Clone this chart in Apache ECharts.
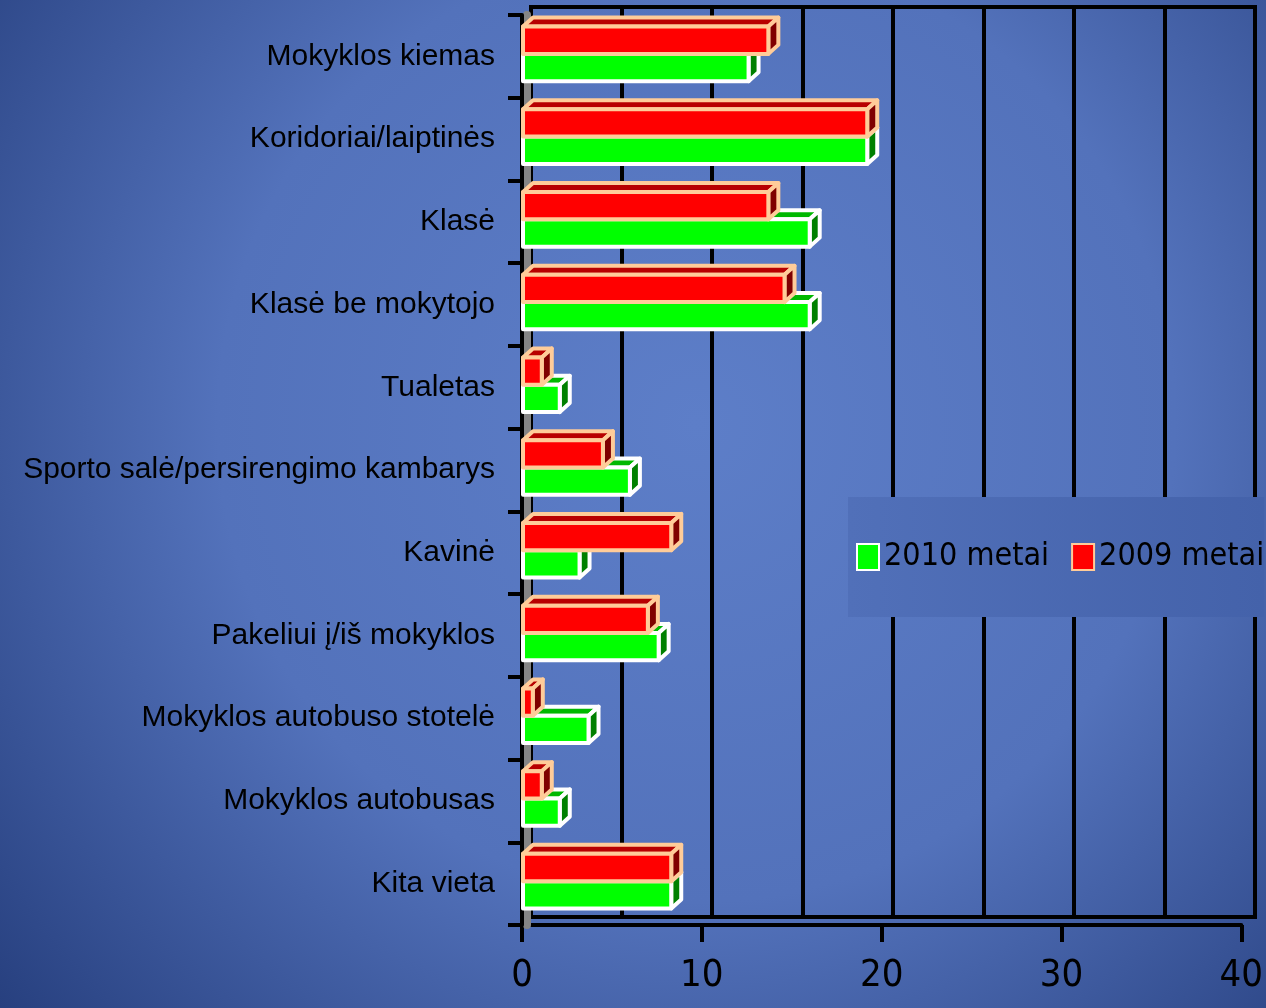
<!DOCTYPE html>
<html>
<head>
<meta charset="utf-8">
<script src="https://cdn.jsdelivr.net/npm/echarts@6/dist/echarts.min.js"></script>
<style>
  html, body { margin: 0; padding: 0; }
  #chart { width: 1266px; height: 1008px; }
</style>
</head>
<body>
<div id="chart"></div>
<script>
// kategorijos (iš viršaus į apačią)
const categories = [
  'Mokyklos kiemas',
  'Koridoriai/laiptinės',
  'Klasė',
  'Klasė be mokytojo',
  'Tualetas',
  'Sporto salė/persirengimo kambarys',
  'Kavinė',
  'Pakeliui į/iš mokyklos',
  'Mokyklos autobuso stotelė',
  'Mokyklos autobusas',
  'Kita vieta'
]
const values2009 = [13.7, 19.2, 13.7, 14.6, 1.1, 4.5, 8.3, 7.0, 0.6, 1.1, 8.3]
const values2010 = [12.6, 19.2, 16.0, 16.0, 2.1, 6.0, 3.2, 7.6, 3.7, 2.1, 8.3]
const xTicks = [0, 10, 20, 30, 40]

const narrowFont = '"Liberation Sans Narrow", "DejaVu Sans Condensed", "Liberation Sans", sans-serif'

const chart = echarts.init(document.getElementById('chart'))

// 3D stačiakampis: priekis + viršus + šonas
function box3d(slot, c) {
  return function(params, api) {
    const v = api.value(0)
    const i = api.value(1)
    const p0 = api.coord([0, i])
    const p1 = api.coord([v, i])
    const band = api.size([0, 1])[1]
    const h = band * 0.33
    const y = p0[1] - band * 0.36 + slot * h
    const x0 = p0[0] + 1
    const x1 = p1[0]
    const dx = 10
    const dy = -9
    const st = { stroke: c.border, lineWidth: 4, lineJoin: 'round' }
    return {
      type: 'group',
      children: [
        {
          type: 'polygon',
          shape: { points: [[x0, y], [x1, y], [x1 + dx, y + dy], [x0 + dx, y + dy]] },
          style: Object.assign({ fill: c.top }, st)
        },
        {
          type: 'polygon',
          shape: { points: [[x1, y], [x1 + dx, y + dy], [x1 + dx, y + h + dy], [x1, y + h]] },
          style: Object.assign({ fill: c.side }, st)
        },
        {
          type: 'rect',
          shape: { x: x0, y: y, width: x1 - x0, height: h },
          style: Object.assign({ fill: c.front }, st)
        }
      ]
    }
  }
}

const green = { front: '#00ff00', top: '#00b800', side: '#008000', border: '#ffffff' }
const red = { front: '#ff0000', top: '#b80000', side: '#800000', border: '#ffcc99' }

chart.setOption({
  backgroundColor: {
    type: 'radial', x: 0.55, y: 0.42, r: 0.95,
    colorStops: [
      { offset: 0, color: '#5d7ec8' },
      { offset: 0.5, color: '#5372bb' },
      { offset: 1, color: '#223a78' }
    ]
  },
  animation: false,
  legend: {
    data: ['2010 metai', '2009 metai'],
    orient: 'horizontal',
    left: 848,
    top: 497,
    width: 418,
    padding: [44, 0, 44, 8],
    backgroundColor: {
      type: 'linear', x: 0, y: 0, x2: 1, y2: 0,
      colorStops: [
        { offset: 0, color: '#5170b9' },
        { offset: 1, color: '#4462aa' }
      ]
    },
    icon: 'rect',
    itemWidth: 22,
    itemHeight: 26,
    itemGap: 22,
    textStyle: { fontFamily: narrowFont, fontSize: 32, color: '#000' }
  },
  grid: [
    { left: 522, right: 21, top: 15, bottom: 83 },
    { left: 531, right: 11, top: 7, bottom: 91, show: true, borderColor: '#000', borderWidth: 4, backgroundColor: 'transparent' }
  ],
  xAxis: [
    {
      type: 'value', gridIndex: 0, min: xTicks[0], max: xTicks[xTicks.length - 1], interval: 10,
      axisLine: { show: true, lineStyle: { color: '#000', width: 4 } },
      axisTick: { show: true, length: 17, lineStyle: { color: '#000', width: 4 } },
      splitLine: { show: false },
      axisLabel: { margin: 32, fontFamily: narrowFont, fontSize: 38, color: '#000' }
    },
    {
      type: 'value', gridIndex: 1, min: xTicks[0], max: xTicks[xTicks.length - 1], interval: 10,
      axisLine: { show: true, lineStyle: { color: '#000', width: 4 } },
      axisTick: { show: false },
      axisLabel: { show: false },
      splitLine: { show: true, lineStyle: { color: '#000', width: 4 } },
      minorTick: { show: false, splitNumber: 2 },
      minorSplitLine: { show: true, lineStyle: { color: '#000', width: 4 } }
    }
  ],
  yAxis: [
    {
      type: 'category', gridIndex: 0, data: categories, inverse: true, z: 3, position: 'left',
      axisLine: { show: true, lineStyle: { color: '#000', width: 4 } },
      axisTick: { show: true, length: 14, lineStyle: { color: '#000', width: 4 } },
      axisLabel: { margin: 27, fontFamily: '"Liberation Sans", Arial, sans-serif', fontSize: 30, color: '#000' },
      splitLine: { show: false }
    },
    {
      // pilka kairė sienelė
      type: 'category', gridIndex: 0, data: categories, inverse: true, position: 'left', offset: -5, z: 1,
      axisLine: { show: true, lineStyle: { color: '#858585', width: 8 } },
      axisTick: { show: false },
      axisLabel: { show: false }
    },
    {
      type: 'category', gridIndex: 1, data: categories, inverse: true,
      axisLine: { show: false },
      axisTick: { show: false },
      axisLabel: { show: false }
    }
  ],
  series: [
    {
      name: '2010 metai', type: 'custom', xAxisIndex: 0, yAxisIndex: 0, z: 5,
      itemStyle: { color: green.front, borderColor: green.border, borderWidth: 3 },
      encode: { x: 0, y: 1 },
      renderItem: box3d(1, green),
      data: values2010.map((v, i) => [v, i])
    },
    {
      name: '2009 metai', type: 'custom', xAxisIndex: 0, yAxisIndex: 0, z: 5,
      itemStyle: { color: red.front, borderColor: red.border, borderWidth: 3 },
      encode: { x: 0, y: 1 },
      renderItem: box3d(0, red),
      data: values2009.map((v, i) => [v, i])
    }
  ]
})
</script>
</body>
</html>
